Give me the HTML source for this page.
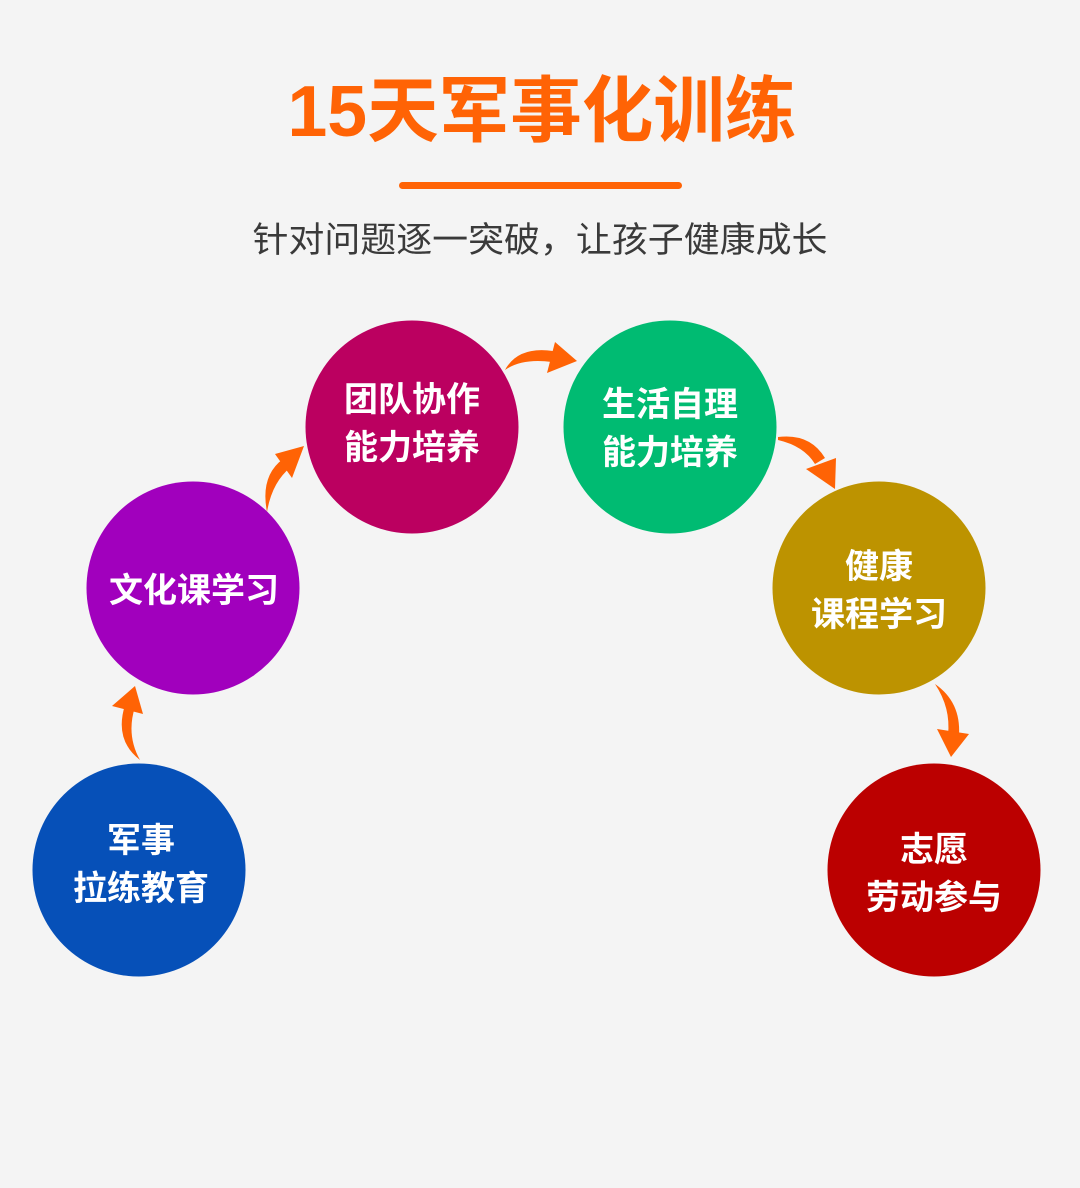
<!DOCTYPE html>
<html><head><meta charset="utf-8"><style>
html,body{margin:0;padding:0;background:#f4f4f4;}
svg{display:block}
text{font-family:"Liberation Sans","Noto Sans CJK SC",sans-serif;}
</style></head><body>
<svg width="1080" height="1188" viewBox="0 0 1080 1188" xmlns="http://www.w3.org/2000/svg">
<rect width="1080" height="1188" fill="#f4f4f4"/>
<text x="542" y="136" text-anchor="middle" font-size="72" font-weight="bold" fill="#ff6305" textLength="509" lengthAdjust="spacingAndGlyphs">15天军事化训练</text>
<rect x="399" y="182" width="283" height="7" rx="3.5" fill="#ff6305"/>
<text x="540" y="252" text-anchor="middle" font-size="35" fill="#3a3a3a" textLength="575" lengthAdjust="spacingAndGlyphs">针对问题逐一突破，让孩子健康成长</text>

<g fill="#ff6305">
 <path d="M140 760 Q114 740 125 705 L135 707 Q126 735 140 760 Z"/>
 <polygon points="135,686 112,706 143,714"/>
 <path d="M267 512 Q260 476 283 459 L291 467 Q272 482 267 512 Z"/>
 <polygon points="304,446 275,454 292,478"/>
 <path d="M505 370 Q518 346 553 351 L552 362 Q522 358 505 370 Z"/>
 <polygon points="577,361 555,342 547,373"/>
 <path d="M778 437 Q810 433 825 458 L815 464 Q804 446 778 440 Z"/>
 <polygon points="835,489 836,458 806,469"/>
 <path d="M935 684 Q961 702 959 735 L948 735 Q951 708 935 684 Z"/>
 <polygon points="951,757 969,734 937,729"/>
</g>

<circle cx="139" cy="870" r="106.5" fill="#0650b8"/>
<circle cx="193" cy="588" r="106.5" fill="#a100bd"/>
<circle cx="412" cy="427" r="106.5" fill="#bb0060"/>
<circle cx="670" cy="427" r="106.5" fill="#00bb72"/>
<circle cx="879" cy="588" r="106.5" fill="#bd9300"/>
<circle cx="934" cy="870" r="106.5" fill="#bb0000"/>

<g fill="#fff" font-size="34" font-weight="bold" text-anchor="middle">
 <text x="141" y="852">军事</text>
 <text x="141" y="900">拉练教育</text>
 <text x="194" y="602">文化课学习</text>
 <text x="412" y="411">团队协作</text>
 <text x="412" y="459">能力培养</text>
 <text x="670" y="416">生活自理</text>
 <text x="670" y="464">能力培养</text>
 <text x="879" y="578">健康</text>
 <text x="879" y="626">课程学习</text>
 <text x="934" y="861">志愿</text>
 <text x="934" y="909">劳动参与</text>
</g>
</svg>
</body></html>
